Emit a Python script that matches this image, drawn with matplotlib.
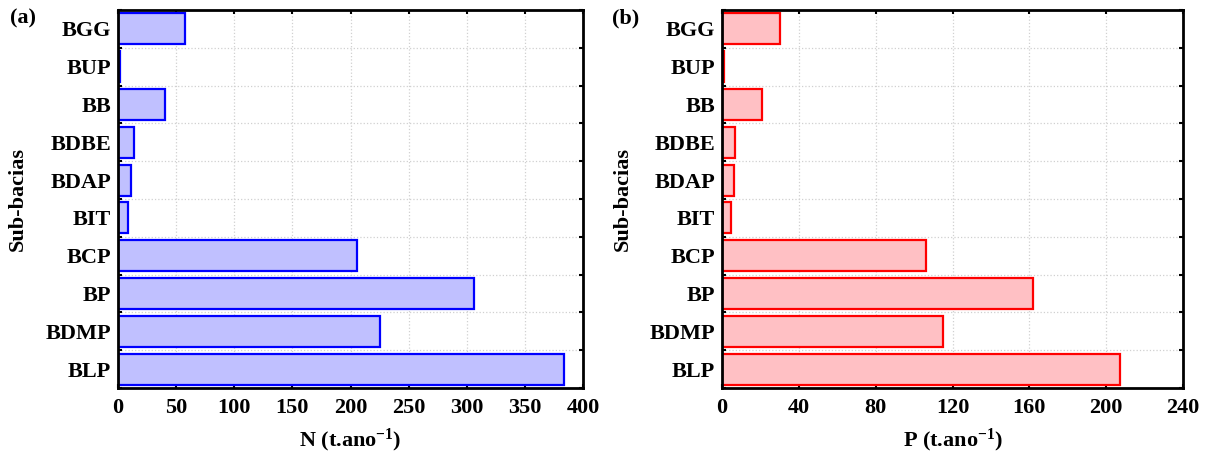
import numpy as np
import matplotlib
matplotlib.use('Agg')
import matplotlib.pyplot as plt

plt.rcParams['font.family'] = ['Liberation Serif', 'DejaVu Serif']
plt.rcParams['font.weight'] = 'bold'
plt.rcParams['mathtext.fontset'] = 'custom'
plt.rcParams['mathtext.rm'] = 'Liberation Serif:bold'
plt.rcParams['mathtext.bf'] = 'Liberation Serif:bold'
plt.rcParams['mathtext.default'] = 'bf'

basins = ['BLP', 'BDMP', 'BP', 'BCP', 'BIT', 'BDAP', 'BDBE', 'BB', 'BUP', 'BGG']
n_load = [384, 225, 306, 206, 9, 11, 14, 40, 2, 58]
p_load = [207, 115, 162, 106, 4.5, 6, 7, 21, 1, 30]

n_ticks = [0, 50, 100, 150, 200, 250, 300, 350, 400]
p_ticks = [0, 40, 80, 120, 160, 200, 240]

fig = plt.figure(figsize=(12.11, 4.68), dpi=100)
ax_0 = fig.add_axes([118/1211, 80/468, 465/1211, 378/468])
ax_1 = fig.add_axes([722/1211, 80/468, 461/1211, 378/468])

def style(ax, vals, ticks, fc, ec, xlab):
    y = np.arange(len(basins))
    ax.barh(y, vals, height=0.82, color=fc, edgecolor=ec, linewidth=1.6, zorder=3)
    ax.set_xlim(ticks[0], ticks[-1])
    ax.set_ylim(-0.5, len(basins) - 0.5)
    ax.set_xticks(ticks)
    ax.set_xticklabels([str(t) for t in ticks], fontsize=16, fontweight='bold')
    ax.set_yticks(y)
    ax.set_yticklabels(basins, fontsize=16, fontweight='bold')
    ax.tick_params(axis='y', which='major', length=0, pad=5)
    ax.set_yticks(np.arange(len(basins) + 1) - 0.5, minor=True)
    ax.tick_params(axis='y', which='minor', direction='in', length=3, width=1.5,
                   left=True, right=True)
    ax.tick_params(axis='x', direction='in', length=3, width=1.5, top=True,
                   bottom=True, pad=7)
    ax.grid(True, axis='x', which='major', color='#d0d0d0', linestyle=':', linewidth=0.9, zorder=0)
    ax.grid(True, axis='y', which='minor', color='#d0d0d0', linestyle=':', linewidth=0.9, zorder=0)
    for s in ax.spines.values():
        s.set_linewidth(2)
        s.set_zorder(4)
    ax.set_xlabel(xlab, fontsize=16, fontweight='bold', va='center')
    ax.xaxis.set_label_coords(0.5, -0.138)
    ax.set_ylabel('Sub-bacias', fontsize=16, fontweight='bold', va='center')
    ax.yaxis.set_label_coords(-100/465, 0.5)
    return ax

style(ax_0, n_load, n_ticks, '#c0c0ff', '#0000ff', r'N (t.ano$^{-1}$)')
style(ax_1, p_load, p_ticks, '#ffc0c4', '#ff0000', r'P (t.ano$^{-1}$)')

fig.text(10/1211, 1 - 18/468, '(a)', fontsize=16, fontweight='bold', va='center')
fig.text(612/1211, 1 - 18/468, '(b)', fontsize=16, fontweight='bold', va='center')

fig.savefig('out.png', dpi=100)
